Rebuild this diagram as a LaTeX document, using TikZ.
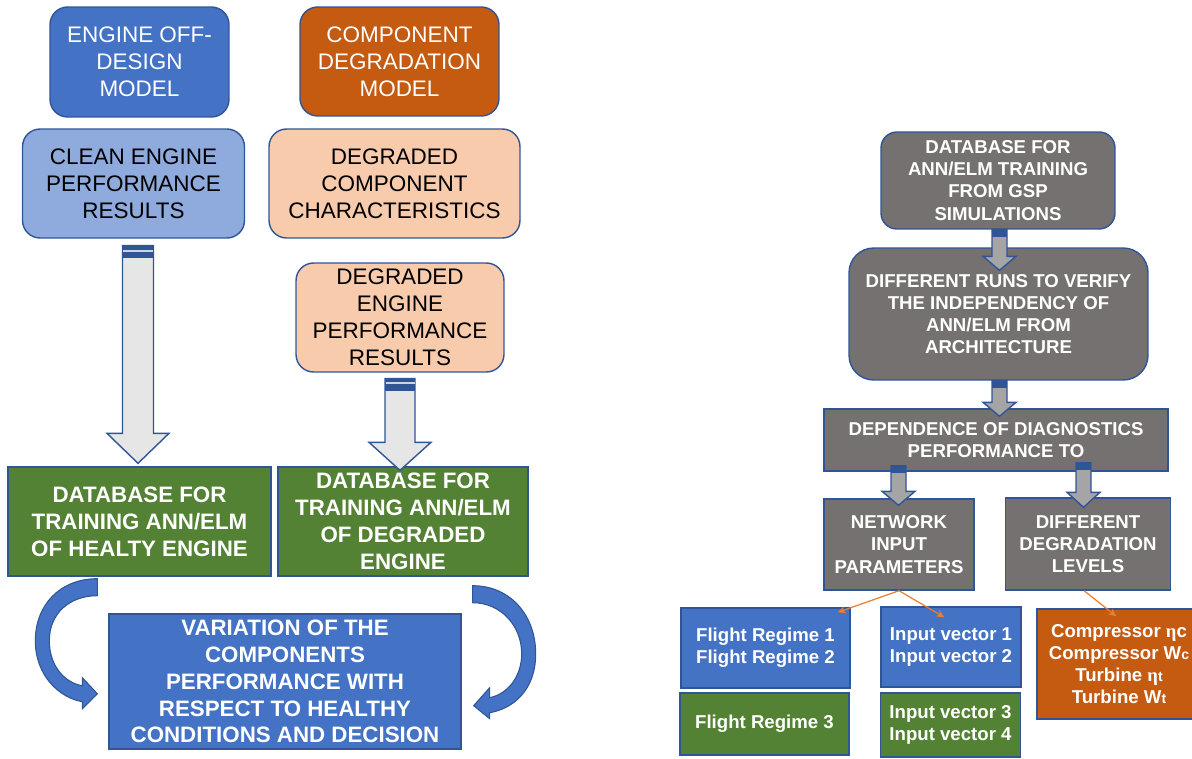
\documentclass[tikz,border=0pt]{standalone}
\usepackage{fontspec}
\setmainfont{Liberation Sans}
\newfontfamily\greekfont{Liberation Serif}
\usetikzlibrary{arrows.meta, calc, positioning}

\definecolor{BoxBlue}{HTML}{4472C4}
\definecolor{EdgeBlue}{HTML}{2F5597}
\definecolor{BoxOrange}{HTML}{C55A11}
\definecolor{PaleBlue}{HTML}{8FAADC}
\definecolor{Peach}{HTML}{F8CBAD}
\definecolor{BoxGreen}{HTML}{548235}
\definecolor{BoxGray}{HTML}{767171}
\definecolor{ArrowLight}{HTML}{E7E6E6}
\definecolor{ArrowGray}{HTML}{A5A5A5}
\definecolor{LinkOrange}{HTML}{ED7D31}

\newcommand{\smallsub}[1]{{\fontsize{8}{9}\selectfont #1}}
% block arrow: from, to, half shaft, half head, head length, fill, band height (px)
\newcommand{\blockarr}[7]{%
  \draw[arrline,fill=#6] let \p1=(#1),\p2=(#2),\p3=(#3,#5),\p4=(#4,#7) in
    (\x2-\x3,\y1) -- (\x2-\x3,\y2-\y3) -- (\x2-\x4,\y2-\y3) -- (\x2,\y2)
    -- (\x2+\x4,\y2-\y3) -- (\x2+\x3,\y2-\y3) -- (\x2+\x3,\y1) -- cycle;
  \fill[EdgeBlue] let \p1=(#1),\p2=(#2),\p3=(#3,#5),\p4=(#4,#7) in
    (\x2-\x3,\y1) rectangle (\x2+\x3,\y1+\y4);}

\begin{document}
\begin{tikzpicture}[x=0.02cm,y=-0.02cm,
	box/.style={draw=EdgeBlue,line width=0.8pt,align=center,inner sep=0pt,text=white},
	roundbox/.style={box,rounded corners=10pt},
	lfont/.style={font=\fontsize{12.8}{15.3}\selectfont},
	lbold/.style={font=\fontsize{12.7}{15.3}\selectfont\bfseries},
	rbold/.style={font=\fontsize{10.6}{12.6}\selectfont\bfseries},
	arrline/.style={draw=EdgeBlue,line width=0.8pt},
	stripe/.style={draw=white!75!EdgeBlue,line width=1.1pt},
	bendarrow/.style={fill=BoxBlue,draw=EdgeBlue,line width=0.6pt},
	link/.style={draw=LinkOrange,line width=0.7pt,-{Stealth[length=4.5pt,width=4pt]}}]
\useasboundingbox (0,0) rectangle (1192,758);

% left: building the databases
\node[roundbox,lfont,fill=BoxBlue,minimum width=3.58cm,minimum height=2.2cm] (eod) at (139.5,62) {ENGINE OFF-\\DESIGN\\MODEL};
\node[roundbox,lfont,fill=BoxOrange,minimum width=3.98cm,minimum height=2.18cm] (cdm) at (399.5,61.5) {COMPONENT\\DEGRADATION\\MODEL};
\node[roundbox,lfont,fill=PaleBlue,text=black,minimum width=4.44cm,minimum height=2.18cm] (cepr) at (133.5,183.5) {CLEAN ENGINE\\PERFORMANCE\\RESULTS};
\node[roundbox,lfont,fill=Peach,text=black,minimum width=5.02cm,minimum height=2.18cm] (dcc) at (394.5,183.5) {DEGRADED\\COMPONENT\\CHARACTERISTICS};
\node[roundbox,lfont,fill=Peach,text=black,minimum width=4.16cm,minimum height=2.18cm] (depr) at (400,317.5) {DEGRADED\\ENGINE\\PERFORMANCE\\RESULTS};
\node[box,lbold,fill=BoxGreen,minimum width=5.26cm,minimum height=2.18cm] (db1) at (139.5,521.5) {DATABASE FOR\\TRAINING ANN/ELM\\OF HEALTY ENGINE};
\node[box,lbold,fill=BoxGreen,minimum width=5.0cm,minimum height=2.18cm] (db2) at (403,521.5) {DATABASE FOR\\TRAINING ANN/ELM\\OF DEGRADED\\ENGINE};
\node[box,lbold,fill=BoxBlue,minimum width=7.04cm,minimum height=2.7cm] (var) at (285,681.5) {VARIATION OF THE\\COMPONENTS\\PERFORMANCE WITH\\RESPECT TO HEALTHY\\CONDITIONS AND DECISION};

\blockarr{$(cepr.south)+(0,7)$}{$(db1.north)+(-1.5,-3)$}{15.5}{31}{30}{ArrowLight}{12}
\draw[stripe] ($(db1.north)+(-16.5,-215)$) -- ($(db1.north)+(13.5,-215)$);
\blockarr{$(depr.south)+(0,6)$}{$(db2.north)+(-3,4)$}{15}{31}{28}{ArrowLight}{12}
\draw[stripe] ($(db2.north)+(-17.5,-83)$) -- ($(db2.north)+(11.5,-83)$);

% curved arrows into the decision box
\begin{scope}[shift={(db1.south west)}]
\draw[bendarrow] (90,2) .. controls (52,2) and (28,29) .. (28,64)
  .. controls (28,99) and (52,121) .. (75,125) -- (75,132) -- (90,117) -- (75,101) -- (75,109)
  .. controls (57,106) and (42,89) .. (42,64) .. controls (42,37) and (62,19) .. (90,19) -- cycle;
\end{scope}
\begin{scope}[shift={(db2.south east)}]
\draw[bendarrow] (-56,9) .. controls (-18,9) and (7,39) .. (7,77)
  .. controls (7,114) and (-16,132) .. (-39,136) -- (-39,142) -- (-55,129) -- (-39,111) -- (-39,121)
  .. controls (-20,117) and (-7,99) .. (-7,77) .. controls (-7,49) and (-28,26) .. (-56,26) -- cycle;
\end{scope}

% right: diagnostics study
\node[box,rbold,fill=BoxGray,rounded corners=9pt,minimum width=4.68cm,minimum height=1.94cm] (dbg) at (998,180.5) {DATABASE FOR\\ANN/ELM TRAINING\\FROM GSP\\SIMULATIONS};
\node[box,rbold,fill=BoxGray,rounded corners=14pt,minimum width=5.98cm,minimum height=2.64cm] (diff) at (998.5,314) {DIFFERENT RUNS TO VERIFY\\THE INDEPENDENCY OF\\ANN/ELM FROM\\ARCHITECTURE};
\node[box,rbold,fill=BoxGray,minimum width=6.88cm,minimum height=1.24cm] (dep) at (996,440) {DEPENDENCE OF DIAGNOSTICS\\PERFORMANCE TO};
\node[box,rbold,fill=BoxGray,minimum width=3.0cm,minimum height=1.82cm] (net) at (899,544.5) {NETWORK\\INPUT\\PARAMETERS};
\node[box,rbold,fill=BoxGray,minimum width=3.3cm,minimum height=1.84cm] (ddl) at (1088,544) {DIFFERENT\\DEGRADATION\\LEVELS};
\node[box,rbold,fill=BoxBlue,minimum width=3.38cm,minimum height=1.6cm] (fr12) at (765.5,648) {Flight Regime 1\\Flight Regime 2};
\node[box,rbold,fill=BoxBlue,minimum width=2.8cm,minimum height=1.6cm] (iv12) at (951,647) {Input vector 1\\Input vector 2};
\node[box,rbold,fill=BoxGreen,minimum width=3.38cm,minimum height=1.24cm] (fr3) at (764.5,724) {Flight Regime 3};
\node[box,rbold,fill=BoxGreen,minimum width=2.8cm,minimum height=1.28cm] (iv34) at (950.5,725) {Input vector 3\\Input vector 4};
\node[box,rbold,fill=BoxOrange,minimum width=3.28cm,minimum height=2.2cm] (comp) at (1119,664) {Compressor {\greekfont η}c\\Compressor W\smallsub{c}\\Turbine {\greekfont η}\smallsub{t}\\Turbine W\smallsub{t}};

\blockarr{dbg.south}{$(diff.north)+(1,23)$}{7.5}{16.5}{14}{ArrowGray}{7}
\blockarr{diff.south}{$(dep.north)+(3.5,8)$}{7.5}{16.5}{14}{ArrowGray}{7}
\blockarr{$(dep.south)+(0,-6)$}{$(net.north)+(-0.5,7)$}{7.5}{16.5}{14}{ArrowGray}{7}
\blockarr{$(dep.south)+(0,-9)$}{$(ddl.north)+(-4.5,10)$}{7.5}{16.5}{15}{ArrowGray}{7}

\draw[link] (net.south) -- ($(fr12.north east)+(-13,5)$);
\draw[link] (net.south) -- ($(iv12.north west)+(64,11)$);
\draw[link] ($(ddl.south)+(-4,0)$) -- ($(comp.north west)+(80,8)$);
\end{tikzpicture}
\end{document}
